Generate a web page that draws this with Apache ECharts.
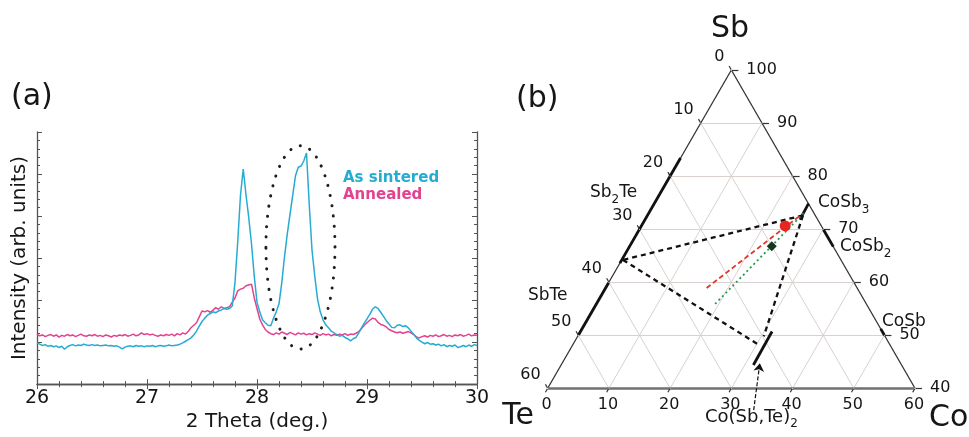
<!DOCTYPE html>
<html>
<head>
<meta charset="utf-8">
<script src="https://cdn.jsdelivr.net/npm/echarts@6/dist/echarts.min.js"></script>
<style>
html, body { margin: 0; padding: 0; background: #fff; }
#main { width: 969px; height: 437px; }
</style>
</head>
<body>
<div id="main"></div>
<script>
// ---- (a) XRD patterns, 2 theta sampled every 0.025 deg from 26 ----
var thetaStart = 26;
var thetaStep = 0.025;
var xTicks = [26, 27, 28, 29, 30];

var sintered = [
	0.98, 0.95, 0.92, 0.94, 0.90, 0.92, 0.89, 0.91, 0.87, 0.90,
	0.83, 0.89, 0.92, 0.94, 0.91, 0.93, 0.92, 0.95, 0.93, 0.92,
	0.94, 0.92, 0.93, 0.91, 0.92, 0.93, 0.91, 0.92, 0.90, 0.91,
	0.88, 0.84, 0.88, 0.90, 0.91, 0.89, 0.92, 0.90, 0.91, 0.89,
	0.91, 0.90, 0.92, 0.89, 0.91, 0.92, 0.90, 0.91, 0.93, 0.91,
	0.92, 0.93, 0.95, 0.98, 1.02, 1.06, 1.10, 1.17, 1.26, 1.38,
	1.49, 1.57, 1.64, 1.68, 1.72, 1.70, 1.74, 1.76, 1.80, 1.78,
	1.80, 1.86, 2.42, 3.40, 4.50, 5.12, 4.50, 3.96, 3.34, 2.57,
	1.95, 1.72, 1.53, 1.46, 1.40, 1.39, 1.57, 1.72, 1.91, 2.41,
	3.03, 3.57, 4.04, 4.50, 4.96, 5.16, 5.19, 5.31, 5.50, 4.27,
	3.19, 2.57, 2.03, 1.72, 1.53, 1.41, 1.34, 1.26, 1.22, 1.18,
	1.14, 1.16, 1.11, 1.08, 1.03, 1.08, 1.11, 1.22, 1.34, 1.45,
	1.55, 1.66, 1.78, 1.84, 1.80, 1.71, 1.61, 1.51, 1.43, 1.35,
	1.34, 1.40, 1.41, 1.37, 1.39, 1.34, 1.26, 1.18, 1.10, 1.04,
	1.00, 0.96, 0.99, 0.95, 0.96, 0.93, 0.95, 0.91, 0.94, 0.89,
	0.92, 0.90, 0.93, 0.87, 0.89, 0.92, 0.89, 0.93, 0.90, 0.94, 0.92
];

var annealed = [
	1.19, 1.15, 1.17, 1.13, 1.16, 1.18, 1.14, 1.17, 1.12, 1.16,
	1.14, 1.18, 1.15, 1.17, 1.13, 1.16, 1.19, 1.15, 1.14, 1.17,
	1.15, 1.18, 1.14, 1.16, 1.13, 1.17, 1.15, 1.12, 1.16, 1.14,
	1.17, 1.15, 1.18, 1.14, 1.16, 1.19, 1.15, 1.17, 1.22, 1.18,
	1.20, 1.17, 1.19, 1.16, 1.14, 1.17, 1.15, 1.18, 1.16, 1.19,
	1.15, 1.20, 1.17, 1.22, 1.19, 1.26, 1.34, 1.40, 1.46, 1.60,
	1.74, 1.72, 1.75, 1.71, 1.76, 1.82, 1.78, 1.84, 1.80, 1.82,
	1.84, 1.95, 2.05, 2.22, 2.26, 2.28, 2.34, 2.36, 2.38, 2.05,
	1.80, 1.55, 1.41, 1.30, 1.24, 1.20, 1.18, 1.22, 1.19, 1.24,
	1.21, 1.18, 1.23, 1.20, 1.17, 1.22, 1.19, 1.21, 1.17, 1.20,
	1.18, 1.22, 1.19, 1.16, 1.20, 1.17, 1.19, 1.15, 1.18, 1.16,
	1.19, 1.17, 1.20, 1.16, 1.19, 1.18, 1.21, 1.25, 1.32, 1.40,
	1.46, 1.52, 1.57, 1.55, 1.47, 1.42, 1.40, 1.36, 1.30, 1.27,
	1.24, 1.22, 1.24, 1.21, 1.23, 1.25, 1.22, 1.18, 1.12, 1.10,
	1.13, 1.15, 1.12, 1.16, 1.14, 1.17, 1.13, 1.15, 1.18, 1.14,
	1.16, 1.13, 1.17, 1.15, 1.18, 1.14, 1.16, 1.19, 1.15, 1.17, 1.16
];

// dotted ring round the 28.4 deg peak: centre and half-axes in data units
var ringCenter = [28.395, 3.255];
var ringRadius = [0.314, 2.42];

// ---- (b) Co-Sb-Te ternary (Sb >= 40 at.%), points are [Co, Sb] ----
var coTicks = [0, 10, 20, 30, 40, 50, 60];
var sbTicks = [100, 90, 80, 70, 60, 50, 40];
var teTicks = [0, 10, 20, 30, 40, 50, 60];

var phaseBars = [
	[[0, 83.4], [0, 63.6]],        // Sb2Te
	[[0, 59.9], [0, 50.1]],        // SbTe
	[[25.2, 74.8], [25.3, 71.8]],  // CoSb3
	[[33.3, 66.7], [30.1, 69.9]],  // CoSb2
	[[50.0, 50.0], [48.8, 51.2]],  // CoSb
	[[31.3, 50.7], [31.4, 44.4]]   // Co(Sb,Te)2
];
var tieLines = [
	[[25.4, 72.6], [0.2, 64.2]],
	[[0.2, 64.2], [30.0, 48.4]],
	[[25.4, 72.6], [30.4, 49.8]]
];
var redLine = [[16.5, 58.9], [25.1, 72.8]];
var greenLine = [[19.4, 55.9], [25.3, 73.0]];
var redPoint = [23.5, 70.6];
var greenPoint = [23.2, 66.8];
var arrowLine = [[35.7, 35.9], [32.3, 44.7]];

var cyan = '#26acd2';
var magenta = '#e2428e';
var ink = '#161616';
var fontName = 'DejaVu Sans';

// ternary [Co, Sb] -> plane, bottom edge Sb = 40
function tern(p) {
	return [p[0] + (p[1] - 40) / 2, (p[1] - 40) * Math.sqrt(3) / 2];
}

function seg(a, b) {
	return { coords: [tern(a), tern(b)] };
}

function pairs(values) {
	return values.map(function (v, i) {
		return [+(thetaStart + i * thetaStep).toFixed(3), v];
	});
}

var gridLines = [];
sbTicks.slice(1, -1).forEach(function (sb) { gridLines.push(seg([0, sb], [100 - sb, sb])); });
coTicks.slice(1, -1).forEach(function (co) { gridLines.push(seg([co, 40], [co, 100 - co])); });
teTicks.slice(1, -1).forEach(function (te) { gridLines.push(seg([0, 100 - te], [60 - te, 40])); });

var tickLen = 0.74;
var tickMarks = [];
var tickLabels = [];
teTicks.forEach(function (te) {
	var p = tern([0, 100 - te]);
	tickMarks.push({ coords: [p, [p[0] - tickLen * 0.5, p[1] + tickLen * 0.866]] });
	tickLabels.push({ value: p, name: String(te), label: { offset: [-7, -13], align: 'right' } });
});
sbTicks.forEach(function (sb) {
	var p = tern([100 - sb, sb]);
	tickMarks.push({ coords: [p, [p[0] + 1.15, p[1]]] });
	tickLabels.push({ value: p, name: String(sb), label: { offset: [15, 0], align: 'left' } });
});
coTicks.forEach(function (co) {
	var p = tern([co, 40]);
	tickMarks.push({ coords: [p, [p[0] - tickLen * 0.5, p[1] - tickLen * 0.866]] });
	tickLabels.push({ value: p, name: String(co), label: { offset: [-1, 17], align: 'center' } });
});

function ternLines(name, data, style, z) {
	return {
		name: name,
		type: 'lines',
		coordinateSystem: 'cartesian2d',
		xAxisIndex: 2,
		yAxisIndex: 2,
		clip: false,
		silent: true,
		z: z,
		lineStyle: style,
		data: data
	};
}

var chart = echarts.init(document.getElementById('main'));

var frameAxis = {
	axisLine: { show: true, lineStyle: { color: '#555', width: 1.3 } },
	axisTick: { show: true, inside: true, length: 5, lineStyle: { color: '#555' } },
	minorTick: { show: true, splitNumber: 5, length: 3, lineStyle: { color: '#555' } },
	splitLine: { show: false },
	minorSplitLine: { show: false }
};

function axis(extra) {
	return Object.assign({}, frameAxis, extra);
}

var option = {
	animation: false,
	textStyle: { fontFamily: fontName },
	grid: [
		{ left: 37, top: 132, width: 440, height: 259 },
		{ left: 547.7, top: 70, width: 367.3, height: 318.3 }
	],
	xAxis: [
		axis({
			gridIndex: 0, type: 'value', position: 'bottom', min: 26, max: 30, interval: 1,
			axisLabel: { show: true, margin: 4, fontSize: 19, color: ink, fontFamily: fontName,
				showMinLabel: true, showMaxLabel: true,
				customValues: xTicks },
			name: '2 Theta (deg.)', nameLocation: 'middle', nameGap: 22,
			nameTextStyle: { fontSize: 20, color: ink, fontFamily: fontName }
		}),
		axis({
			gridIndex: 0, type: 'value', position: 'top', min: 26, max: 30, interval: 1,
			axisLabel: { show: false }
		}),
		{ gridIndex: 1, type: 'value', min: 0, max: 60, show: false }
	],
	yAxis: [
		axis({
			gridIndex: 0, type: 'value', position: 'left', min: 0, max: 6, interval: 1,
			axisLabel: { show: false },
			name: 'Intensity (arb. units)', nameLocation: 'middle', nameGap: 7,
			nameTextStyle: { fontSize: 20, color: ink, fontFamily: fontName }
		}),
		axis({
			gridIndex: 0, type: 'value', position: 'right', min: 0, max: 6, interval: 1,
			axisLabel: { show: false }
		}),
		{ gridIndex: 1, type: 'value', min: 0, max: 60 * Math.sqrt(3) / 2, show: false }
	],
	legend: {
		data: [
			{ name: 'As sintered', textStyle: { color: cyan } },
			{ name: 'Annealed', textStyle: { color: magenta } }
		],
		orient: 'vertical',
		left: 338,
		top: 171,
		icon: 'none',
		itemWidth: 0,
		itemHeight: 15,
		itemGap: 2,
		padding: 0,
		selectedMode: false,
		textStyle: { fontSize: 15, fontWeight: 'bold', fontFamily: fontName }
	},
	series: [
		{
			name: 'Annealed', type: 'line', xAxisIndex: 0, yAxisIndex: 0,
			showSymbol: false, symbol: 'none', silent: true,
			lineStyle: { color: magenta, width: 1.5 }, itemStyle: { color: magenta },
			data: pairs(annealed)
		},
		{
			name: 'As sintered', type: 'line', xAxisIndex: 0, yAxisIndex: 0,
			showSymbol: false, symbol: 'none', silent: true,
			lineStyle: { color: cyan, width: 1.5 }, itemStyle: { color: cyan },
			data: pairs(sintered)
		},
		ternLines('grid', gridLines, { color: '#d9d1cd', width: 1, opacity: 1 }, 1),
		ternLines('edges', [seg([0, 100], [0, 40]), seg([0, 100], [60, 40])],
			{ color: '#333', width: 1.3, opacity: 1 }, 2),
		ternLines('base', [seg([0, 40], [60, 40])], { color: '#707070', width: 2.6, opacity: 1 }, 2),
		ternLines('ticks', tickMarks, { color: '#333', width: 1.2, opacity: 1 }, 2),
		ternLines('phases', phaseBars.map(function (b) { return seg(b[0], b[1]); }),
			{ color: '#111', width: 2.8, opacity: 1, cap: 'butt' }, 3),
		ternLines('ties', tieLines.map(function (b) { return seg(b[0], b[1]); }),
			{ color: '#111', width: 2.3, opacity: 1, type: [5, 4] }, 4),
		ternLines('red', [seg(redLine[0], redLine[1])],
			{ color: '#e2352b', width: 1.8, opacity: 1, type: [5, 3] }, 5),
		ternLines('green', [seg(greenLine[0], greenLine[1])],
			{ color: '#1f9a50', width: 1.8, opacity: 1, type: [2, 3] }, 5),
		{
			name: 'arrow', type: 'lines', coordinateSystem: 'cartesian2d', xAxisIndex: 2, yAxisIndex: 2,
			clip: false, silent: true, z: 5,
			symbol: ['none', 'arrow'], symbolSize: 8,
			lineStyle: { color: '#111', width: 1.2, opacity: 1, type: [4, 2] },
			data: [seg(arrowLine[0], arrowLine[1])]
		},
		{
			name: 'points', type: 'scatter', xAxisIndex: 2, yAxisIndex: 2, silent: true, z: 6,
			data: [
				{ value: tern(redPoint), symbol: 'circle', symbolSize: 11, itemStyle: { color: '#e5281f', opacity: 1 } },
				{ value: tern(greenPoint), symbol: 'diamond', symbolSize: 10, itemStyle: { color: '#16361f', opacity: 1 } }
			]
		},
		{
			name: 'tickLabels', type: 'scatter', xAxisIndex: 2, yAxisIndex: 2, silent: true, z: 6,
			symbolSize: 1, itemStyle: { color: '#fff', opacity: 1 },
			label: {
				show: true, position: 'top', distance: 0, formatter: '{b}', verticalAlign: 'middle',
				fontSize: 16, color: ink, opacity: 1, textBorderWidth: 0, fontFamily: fontName
			},
			data: tickLabels
		}
	],
	graphic: { elements: [] }
};

function txt(id, text, x, y, size, align) {
	return {
		id: id, type: 'text', x: x, y: y, silent: true,
		style: {
			text: text, font: size + 'px "' + fontName + '"', fill: ink,
			align: align || 'left', verticalAlign: 'middle',
			textAlign: align || 'left', textVerticalAlign: 'middle'
		}
	};
}

function subTxt(id, main, sub, after, x, y, size) {
	var rich = {
		n: { fontSize: size, fontFamily: fontName, fill: ink, color: ink, lineHeight: 26, verticalAlign: 'middle' },
		s: { fontSize: 12, fontFamily: fontName, fill: ink, color: ink, lineHeight: 14, verticalAlign: 'bottom' }
	};
	return {
		id: id, type: 'text', x: x, y: y, silent: true,
		style: {
			text: '{n|' + main + '}{s|' + sub + '}' + (after ? '{n|' + after + '}' : ''),
			rich: rich, align: 'left', verticalAlign: 'middle',
			textAlign: 'left', textVerticalAlign: 'middle'
		}
	};
}

option.graphic.elements = [
	txt('ta', '(a)', 11, 97, 30),
	txt('tb', '(b)', 516, 99, 30),
	txt('sb', 'Sb', 730, 29, 30, 'center'),
	txt('te', 'Te', 534, 416, 30, 'right'),
	txt('co', 'Co', 929, 418, 30),
	subTxt('sb2te', 'Sb', '2', 'Te', 590, 193, 17),
	txt('sbte', 'SbTe', 528, 296, 17),
	subTxt('cosb3', 'CoSb', '3', '', 818, 203, 17),
	subTxt('cosb2', 'CoSb', '2', '', 840, 247, 17),
	txt('cosb', 'CoSb', 882, 322, 17),
	subTxt('cost', 'Co(Sb,Te)', '2', '', 705, 417, 18)
];

chart.setOption(option);

// dotted ring, placed through the grid's own scale
var c = chart.convertToPixel({ gridIndex: 0 }, ringCenter);
var e = chart.convertToPixel({ gridIndex: 0 }, [ringCenter[0] + ringRadius[0], ringCenter[1] + ringRadius[1]]);
chart.setOption({
	graphic: {
		elements: [{
			id: 'ring', type: 'ellipse', silent: true, z: 10,
			shape: { cx: c[0], cy: c[1], rx: e[0] - c[0], ry: c[1] - e[1] },
			style: { fill: 'none', stroke: '#1e1e1e', lineWidth: 3, lineDash: [0.1, 10.2], lineCap: 'round' }
		}]
	}
});
</script>
</body>
</html>
